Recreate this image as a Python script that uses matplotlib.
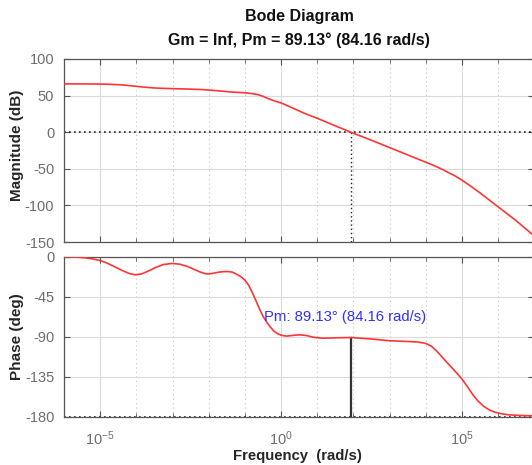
import numpy as np
import matplotlib
matplotlib.use('Agg')
import matplotlib.pyplot as plt
from matplotlib.ticker import FixedLocator, NullFormatter, LogFormatterSciNotation

plt.rcParams['font.family'] = ['Liberation Sans', 'DejaVu Sans']
plt.rcParams['axes.unicode_minus'] = False

# ---- data ----
mag_exp = [-6.0, -5.5, -5.0, -4.7, -4.4, -4.1, -3.8, -3.5, -3.2, -3.0, -2.6, -2.2,
           -2.0, -1.7, -1.4, -1.0, -0.8, -0.63, -0.5, -0.35, -0.2, 0.0,
           0.3, 0.66, 1.0, 1.925, 2.5, 3.0, 3.5, 4.0, 4.2, 4.4, 4.6, 4.8, 5.0, 5.25,
           5.5, 6.0, 6.5, 7.0]
mag_db = [66.0, 66.0, 65.8, 65.4, 64.6, 63.2, 61.6, 60.4, 59.8, 59.5, 59.0, 58.3,
          57.6, 56.4, 55.0, 53.8, 52.8, 51.2, 49.0, 45.8, 43.0, 40.0,
          33.5, 25.5, 19.0, 0.0, -11.0, -21.0, -31.0, -41.0, -45.0, -49.5, -54.5, -59.5,
          -65.5, -74.0, -83.0, -102.0, -121.0, -142.0]

phase_exp = [-6.0, -5.7, -5.4, -5.2, -5.0, -4.8, -4.6, -4.4, -4.2, -4.03, -3.85,
             -3.65, -3.45, -3.25, -3.02, -2.8, -2.6, -2.4, -2.2, -2.05, -1.9,
             -1.7, -1.5, -1.35, -1.22, -1.1, -1.0, -0.9, -0.8, -0.7, -0.6, -0.5,
             -0.4, -0.3, -0.2, -0.1, 0.0, 0.15, 0.3, 0.5, 0.7, 0.9, 1.15, 1.5,
             1.925, 2.5, 3.0, 3.5, 3.8, 4.0, 4.15, 4.3, 4.5, 4.67, 4.85, 5.0,
             5.15, 5.3, 5.45, 5.6, 5.75, 5.9, 6.1, 6.3, 6.6, 7.0]
phase_deg = [-0.2, -0.6, -1.5, -2.8, -4.5, -7.5, -11.5, -15.5, -19.0, -20.5, -19.5,
             -16.0, -12.0, -9.0, -7.8, -8.6, -11.0, -14.5, -18.0, -19.6, -19.0,
             -17.4, -16.8, -17.5, -20.0, -23.0, -26.5, -32.0, -40.0, -49.0, -58.5, -67.0,
             -73.5, -79.0, -83.5, -86.5, -88.3, -89.3, -88.6, -87.8, -88.6, -90.6, -91.6, -91.2,
             -90.87, -92.5, -94.5, -95.3, -96.0, -97.5, -100.5, -106.0, -115.0, -122.5, -130.5, -137.5,
             -146.0, -155.0, -162.5, -168.0, -172.0, -174.5, -176.5, -177.6, -178.3, -178.7]

wc = 84.16          # gain crossover (rad/s)
pm = 89.13          # phase margin (deg)
title_line1 = "Bode Diagram"
title_line2 = "Gm = Inf, Pm = 89.13° (84.16 rad/s)"
pm_label = "Pm: 89.13° (84.16 rad/s)"
mag_ticks = [-150, -100, -50, 0, 50, 100]
phase_ticks = [-180, -135, -90, -45, 0]
freq_major = [1e-5, 1e0, 1e5]
freq_minor = [10.0 ** k for k in range(-6, 8)]

w_mag = 10.0 ** np.array(mag_exp)
w_ph = 10.0 ** np.array(phase_exp)

# ---- figure ----
W_PX, H_PX = 532, 465
fig = plt.figure(figsize=(W_PX / 100, H_PX / 100), dpi=100)
left = 64 / W_PX
width = (534.4 - 64) / W_PX
ax1 = fig.add_axes([left, 1 - 242 / H_PX, width, 183 / H_PX])
ax2 = fig.add_axes([left, 1 - 417 / H_PX, width, 160.5 / H_PX])

line_red = '#ff3535'
tick_col = '#6e6e6e'
spine_col = '#555555'

for ax in (ax1, ax2):
    ax.set_xscale('log')
    ax.set_xlim(1e-6, 1e7)
    ax.xaxis.set_major_locator(FixedLocator(freq_major))
    ax.xaxis.set_minor_locator(FixedLocator(freq_minor))
    ax.xaxis.set_minor_formatter(NullFormatter())
    ax.grid(True, which='major', color='#dadada', linestyle='-', linewidth=0.8)
    ax.grid(True, which='minor', axis='x', color='#c4c4c4', linestyle=(0, (1, 3)), linewidth=0.8)
    ax.set_axisbelow(True)
    ax.tick_params(which='both', direction='in', top=True, right=True,
                   colors=spine_col, labelcolor=tick_col, labelsize=10.5)
    ax.tick_params(which='major', length=4, width=0.8)
    ax.tick_params(which='minor', length=3, width=0.6)
    ax.tick_params(axis='y', pad=7)
    for s in ax.spines.values():
        s.set_color(spine_col)
        s.set_linewidth(0.9)

# magnitude
ax1.plot(w_mag, mag_db, color=line_red, lw=1.2, zorder=3)
ax1.axhline(0, color='#222222', lw=1.2, linestyle=(0, (1, 2)), zorder=2)
ax1.plot([wc, wc], [-150, 0], color='#222222', lw=1.0, linestyle=(0, (1, 2)), zorder=2)
ax1.set_ylim(-150, 100)
ax1.set_yticks(mag_ticks)
ax1.xaxis.set_major_formatter(NullFormatter())

# phase
ax2.plot(w_ph, phase_deg, color=line_red, lw=1.2, zorder=3)
ax2.axhline(-180, color='#222222', lw=1.2, linestyle=(0, (1, 2)), zorder=2)
ax2.plot([wc, wc], [-180, pm - 180], color='#333333', lw=1.6, zorder=2)
ax2.set_ylim(-180, 0)
ax2.set_yticks(phase_ticks)
ax2.xaxis.set_major_formatter(LogFormatterSciNotation())
ax2.tick_params(axis='x', pad=9)
ax2.text(10 ** -0.47, -68.3, pm_label, color='#3030ff', fontsize=10.7,
         ha='left', va='center', zorder=4)

# labels & titles
cx = (64 + 534.4) / 2 / W_PX
fig.text(cx, 1 - 17 / H_PX, title_line1, ha='center', va='center',
         fontsize=11.5, fontweight='bold', color='#111111')
fig.text(cx, 1 - 40 / H_PX, title_line2, ha='center', va='center',
         fontsize=11.5, fontweight='bold', color='#111111')
fig.text(17 / W_PX, 1 - 145 / H_PX, "Magnitude (dB)", rotation=90, ha='center',
         va='center', fontsize=11, fontweight='bold', color='#262626')
fig.text(17 / W_PX, 1 - 337 / H_PX, "Phase (deg)", rotation=90, ha='center',
         va='center', fontsize=11, fontweight='bold', color='#262626')
fig.text(297 / W_PX, 1 - 456 / H_PX, "Frequency  (rad/s)", ha='center',
         va='center', fontsize=10.7, fontweight='bold', color='#262626')

fig.savefig('out.png', dpi=100, facecolor='white')
